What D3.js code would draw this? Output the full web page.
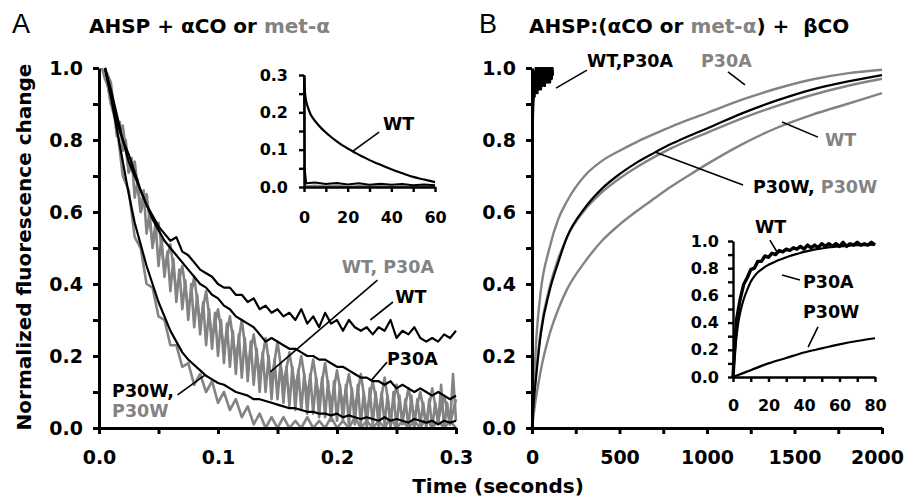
<!DOCTYPE html>
<html>
<head>
<meta charset="utf-8">
<script src="https://cdn.jsdelivr.net/npm/d3@7"></script>
<style>
  body { margin: 0; background: #fff; }
  text { font-family: "DejaVu Sans", Verdana, sans-serif; font-weight: bold; }
</style>
</head>
<body>
<svg id="chart" width="908" height="497"></svg>
<script>
// ---------- data: panel A (AHSP + aCO or met-a), seconds ----------
const timeA = [0.005,0.010,0.015,0.020,0.025,0.030,0.035,0.040,0.045,0.050,
               0.055,0.060,0.065,0.070,0.075,0.080,0.085,0.090,0.095,0.100,
               0.105,0.110,0.115,0.120,0.125,0.130,0.135,0.140,0.145,0.150,
               0.155,0.160,0.165,0.170,0.175,0.180,0.185,0.190,0.195,0.200,
               0.205,0.210,0.215,0.220,0.225,0.230,0.235,0.240,0.245,0.250,
               0.255,0.260,0.265,0.270,0.275,0.280,0.285,0.290,0.295,0.300];
// black: aCO
const coWT   = [1.00,0.93,0.85,0.80,0.76,0.71,0.66,0.62,0.59,0.56,
                0.54,0.52,0.53,0.49,0.48,0.46,0.44,0.43,0.42,0.40,
                0.39,0.39,0.37,0.37,0.35,0.36,0.33,0.34,0.32,0.33,
                0.31,0.32,0.30,0.33,0.29,0.31,0.28,0.32,0.29,0.30,
                0.27,0.30,0.28,0.27,0.28,0.26,0.28,0.27,0.30,0.25,
                0.27,0.26,0.28,0.25,0.24,0.25,0.24,0.26,0.25,0.27];
const coP30A = [1.00,0.94,0.87,0.80,0.74,0.70,0.66,0.62,0.58,0.55,
                0.52,0.50,0.48,0.46,0.44,0.42,0.40,0.39,0.37,0.36,
                0.34,0.33,0.31,0.30,0.29,0.28,0.26,0.24,0.25,0.24,
                0.23,0.22,0.22,0.21,0.20,0.20,0.19,0.19,0.18,0.17,
                0.17,0.16,0.15,0.14,0.14,0.13,0.13,0.12,0.13,0.11,
                0.12,0.11,0.10,0.11,0.10,0.09,0.10,0.09,0.08,0.09];
const coP30W = [1.00,0.92,0.83,0.74,0.65,0.57,0.51,0.45,0.40,0.35,
                0.31,0.27,0.24,0.21,0.19,0.175,0.16,0.145,0.135,0.125,
                0.12,0.11,0.10,0.095,0.09,0.08,0.08,0.075,0.07,0.065,
                0.06,0.055,0.055,0.05,0.045,0.045,0.04,0.04,0.035,0.04,
                0.03,0.035,0.03,0.025,0.03,0.025,0.02,0.03,0.02,0.025,
                0.02,0.015,0.025,0.02,0.015,0.02,0.01,0.02,0.015,0.02];
// gray: met-a (WT sampled twice as densely)
const timeAfine = [0.0025,0.005,0.0075,0.010,0.0125,0.015,0.0175,0.020,0.0225,0.025,
                   0.0275,0.030,0.0325,0.035,0.0375,0.040,0.0425,0.045,0.0475,0.050,
                   0.0525,0.055,0.0575,0.060,0.0625,0.065,0.0675,0.070,0.0725,0.075,
                   0.0775,0.080,0.0825,0.085,0.0875,0.090,0.0925,0.095,0.0975,0.100,
                   0.1025,0.105,0.1075,0.110,0.1125,0.115,0.1175,0.120,0.1225,0.125,
                   0.1275,0.130,0.1325,0.135,0.1375,0.140,0.1425,0.145,0.1475,0.150,
                   0.1525,0.155,0.1575,0.160,0.1625,0.165,0.1675,0.170,0.1725,0.175,
                   0.1775,0.180,0.1825,0.185,0.1875,0.190,0.1925,0.195,0.1975,0.200,
                   0.2025,0.205,0.2075,0.210,0.2125,0.215,0.2175,0.220,0.2225,0.225,
                   0.2275,0.230,0.2325,0.235,0.2375,0.240,0.2425,0.245,0.2475,0.250,
                   0.2525,0.255,0.2575,0.260,0.2625,0.265,0.2675,0.270,0.2725,0.275,
                   0.2775,0.280,0.2825,0.285,0.2875,0.290,0.2925,0.295,0.2975,0.300];
const metWT = [1.00,0.97,0.95,0.90,0.90,0.84,0.85,0.77,0.80,0.71,
               0.75,0.64,0.69,0.60,0.66,0.54,0.60,0.50,0.57,0.45,
               0.53,0.42,0.49,0.38,0.47,0.35,0.44,0.33,0.41,0.30,
               0.40,0.28,0.37,0.26,0.35,0.23,0.33,0.22,0.32,0.20,
               0.30,0.18,0.29,0.17,0.27,0.15,0.26,0.14,0.25,0.13,
               0.24,0.12,0.22,0.10,0.21,0.10,0.20,0.08,0.19,0.08,
               0.18,0.07,0.17,0.06,0.17,0.05,0.16,0.05,0.15,0.04,
               0.15,0.04,0.14,0.03,0.14,0.03,0.13,0.02,0.13,0.02,
               0.12,0.02,0.12,0.01,0.11,0.01,0.12,0.01,0.10,0.00,
               0.11,0.01,0.10,0.00,0.10,0.01,0.09,0.00,0.10,0.00,
               0.09,0.01,0.08,0.00,0.09,0.00,0.08,0.01,0.07,0.00,
               0.08,0.00,0.07,0.01,0.12,0.00,0.07,0.01,0.15,0.02];
const metP30A = [1.00,0.96,0.81,0.84,0.71,0.74,0.60,0.65,0.51,0.57,
                 0.44,0.51,0.38,0.45,0.33,0.42,0.29,0.38,0.25,0.33,
                 0.22,0.31,0.19,0.30,0.17,0.26,0.15,0.25,0.13,0.24,
                 0.12,0.21,0.11,0.20,0.09,0.19,0.08,0.18,0.06,0.16,
                 0.06,0.15,0.05,0.15,0.04,0.13,0.04,0.14,0.03,0.12,
                 0.02,0.11,0.03,0.10,0.01,0.11,0.02,0.09,0.01,0.08];
const metP30W = [1.00,0.90,0.84,0.70,0.66,0.53,0.50,0.40,0.39,0.31,
                 0.30,0.23,0.23,0.17,0.18,0.12,0.15,0.10,0.13,0.07,
                 0.10,0.05,0.08,0.03,0.06,0.01,0.04,0.00,0.03,0.00,
                 0.03,0.00,0.02,0.00,0.03,0.00,0.02,0.00,0.03,0.00,
                 0.02,0.00,0.03,0.00,0.02,0.00,0.02,0.00,0.03,0.00,
                 0.02,0.00,0.02,0.00,0.03,0.00,0.02,0.00,0.02,0.00];

// panel A inset (0-60 s)
const timeAin  = [0,0.5,1,2,3,4,6,8,10,12,15,18,21,24,27,30,34,38,42,46,50,55,60];
const inWT     = [0.30,0.25,0.23,0.21,0.195,0.185,0.17,0.157,0.146,0.136,0.122,0.11,
                  0.10,0.09,0.081,0.072,0.062,0.052,0.043,0.035,0.027,0.02,0.013];
const timeAin2 = [0,0.3,1,5,10,15,20,25,30,35,40,45,50,55,60];
const inFlatK  = [0.30,0.05,0.01,0.012,0.008,0.011,0.007,0.01,0.006,0.009,0.006,0.008,0.005,0.007,0.005];
const inFlatG  = [0.06,0.01,0.002,0.004,0.002,0.004,0.001,0.003,0.002,0.003,0.001,0.002,0.001,0.002,0.001];

// ---------- data: panel B (AHSP:(aCO or met-a) + bCO), seconds ----------
const timeBfast = [0,1,2,3,4,5,6,8,10,12,14,16,18,20,22,24,26,28,30,32,34,36,38,40,42,44,46,48,
                   50,52,54,56,58,60,62,64,66,68,70,72,74,76,78,80,82,84,86,88,90,92,94,96,98,
                   100,102,104,106,108,110,112,114,116,118,120];
const fastWT   = [0,0.42,0.62,0.74,0.81,0.86,0.89,0.92,0.94,0.95,0.93,0.99,0.94,1.00,
                  0.95,0.98,0.93,1.00,0.96,0.99,0.94,1.00,0.95,0.99,0.96,1.00,0.94,0.99,
                  0.96,1.00,0.95,0.98,0.97,1.00,0.95,0.99,0.96,1.00,0.97,0.99,0.95,1.00,0.97,
                  0.99,0.96,1.00,0.97,0.99,0.96,1.00,0.98,0.99,0.96,1.00,0.97,0.99,0.97,1.00,
                  0.98,0.99,0.97,1.00,0.98,0.99];
const fastP30A = [0,0.35,0.55,0.68,0.76,0.82,0.86,0.90,0.92,0.93,0.96,0.92,0.98,0.93,
                  0.99,0.94,0.97,0.95,1.00,0.93,0.98,0.95,0.99,0.94,0.98,0.96,1.00,0.95,
                  0.99,0.94,0.98,0.96,1.00,0.95,0.98,0.97,1.00,0.96,0.98,0.95,0.99,0.97,1.00,
                  0.96,0.99,0.97,1.00,0.97,0.99,0.96,1.00,0.97,0.99,0.97,1.00,0.96,0.99,0.98,
                  1.00,0.97,0.99,0.98,1.00,0.98];
const timeB    = [0,5,10,25,50,100,150,200,300,400,500,600,700,800,900,1000,1200,1400,1600,1800,2000];
const metP30A_B = [0,0.07,0.12,0.25,0.38,0.50,0.58,0.63,0.70,0.742,0.77,0.795,0.817,0.838,0.857,0.875,0.912,0.943,0.968,0.985,0.995];
const coP30W_B  = [0,0.035,0.07,0.15,0.26,0.38,0.46,0.53,0.61,0.665,0.705,0.738,0.765,0.79,0.812,0.832,0.874,0.91,0.94,0.962,0.98];
const metP30W_B = [0,0.04,0.08,0.16,0.27,0.39,0.47,0.53,0.605,0.655,0.693,0.725,0.753,0.778,0.80,0.82,0.86,0.895,0.925,0.95,0.97];
const metWT_B   = [0,0.02,0.04,0.09,0.16,0.26,0.33,0.385,0.46,0.52,0.565,0.603,0.638,0.672,0.703,0.733,0.788,0.834,0.87,0.90,0.93];

// panel B inset (0-80 s)
const timeBin  = [0,2,4,6,8,10,12,14,16,18,20,22,24,26,28,30,32,34,36,38,40,
                  42,44,46,48,50,52,54,56,58,60,62,64,66,68,70,72,74,76,78,80];
const inWT_B   = [0,0.42,0.57,0.68,0.73,0.79,0.80,0.85,0.85,0.89,0.88,0.91,0.90,0.93,0.92,0.94,
                  0.93,0.95,0.94,0.96,0.94,0.97,0.95,0.97,0.95,0.98,0.96,0.98,0.96,0.98,0.96,
                  0.99,0.96,0.98,0.97,0.99,0.97,0.98,0.97,0.99,0.97];
const timeBin2 = [0,1,2,3,4,6,8,10,12,14,16,18,20,24,28,32,36,40,45,50,55,60,65,70,75,80];
const inP30A_B = [0,0.17,0.30,0.40,0.47,0.57,0.64,0.70,0.74,0.77,0.79,0.81,0.825,0.85,0.87,0.89,
                  0.905,0.92,0.935,0.945,0.955,0.96,0.965,0.97,0.97,0.975];
const timeBin3 = [0,5,10,20,30,40,50,60,70,80];
const inP30W_B = [0,0.025,0.05,0.10,0.14,0.18,0.21,0.24,0.265,0.285];

// ticks
const ticksAx  = [0,0.05,0.1,0.15,0.2,0.25,0.3];
const ticksY   = [0,0.1,0.2,0.3,0.4,0.5,0.6,0.7,0.8,0.9,1.0];
const ticksBx  = [0,250,500,750,1000,1250,1500,1750,2000];
const ticksAix = [0,10,20,30,40,50,60];
const ticksAiy = [0,0.05,0.1,0.15,0.2,0.25,0.3];
const ticksBix = [0,10,20,30,40,50,60,70,80];

const BLACK = "#000", GRAY = "#838383";
const svg = d3.select("#chart");

// ---------- helpers ----------
function zip(t, v) { return t.map((d, i) => [d, v[i]]); }

function drawAxes(g, x, y, o) {
  const f1 = d3.format(".1f");
  const xa = g.append("g")
    .attr("transform", `translate(0,${y.range()[0]})`)
    .call(d3.axisBottom(x).tickValues(o.xt).tickSize(o.tick).tickSizeOuter(0)
      .tickPadding(o.xpad).tickFormat((d, i) => i % 2 === 0 ? o.xf(d) : ""));
  const ya = g.append("g")
    .attr("transform", `translate(${x.range()[0]},0)`)
    .call(d3.axisLeft(y).tickValues(o.yt).tickSize(o.tick).tickSizeOuter(0)
      .tickPadding(o.ypad).tickFormat((d, i) => i % 2 === 0 ? f1(d) : ""));
  [xa, ya].forEach(a => {
    a.selectAll("path,line").attr("stroke", BLACK).attr("stroke-width", o.sw);
    a.selectAll("text").attr("fill", BLACK).style("font-size", o.fs + "px")
      .style("font-family", '"DejaVu Sans", Verdana, sans-serif').style("font-weight", "bold");
  });
  return xa;
}

function curve(g, x, y, t, v, color, w, smooth) {
  const line = d3.line().x(d => x(d[0])).y(d => y(d[1]));
  if (smooth) line.curve(d3.curveMonotoneX);
  g.append("path").datum(zip(t, v))
    .attr("fill", "none").attr("stroke", color).attr("stroke-width", w)
    .attr("stroke-linejoin", "round").attr("d", line);
}

function note(g, x, y, a) {
  if (a.line) {
    g.append("line")
      .attr("x1", x(a.line[0])).attr("y1", y(a.line[1]))
      .attr("x2", x(a.line[2])).attr("y2", y(a.line[3]))
      .attr("stroke", BLACK).attr("stroke-width", 1.6);
  }
  const t = g.append("text").attr("x", x(a.at[0])).attr("y", y(a.at[1]))
    .style("font-size", (a.fs || 17.5) + "px").style("white-space", "pre");
  a.parts.forEach(p => t.append("tspan").attr("fill", p[1]).text(p[0]));
}

// ---------- panel A ----------
const xA = d3.scaleLinear().domain([0, 0.3]).range([99, 456]);
const yA = d3.scaleLinear().domain([0, 1]).range([428, 68]);
const gA = svg.append("g");

curve(gA, xA, yA, timeAfine, metWT, GRAY, 2.6);
curve(gA, xA, yA, timeA, metP30A, GRAY, 2.6);
curve(gA, xA, yA, timeA, metP30W, GRAY, 2.6);
curve(gA, xA, yA, timeA, coP30W, BLACK, 2.2);
curve(gA, xA, yA, timeA, coP30A, BLACK, 2.2);
curve(gA, xA, yA, timeA, coWT, BLACK, 2.2);

drawAxes(gA, xA, yA, {xt: ticksAx, yt: ticksY, xf: d3.format(".1f"), tick: 6, sw: 3,
                      xpad: 17, ypad: 10, fs: 19});

note(gA, xA, yA, {at: [0.204, 0.43], parts: [["WT, P30A", GRAY]], line: [0.234, 0.411, 0.144, 0.156]});
note(gA, xA, yA, {at: [0.249, 0.347], parts: [["WT", BLACK]], line: [0.247, 0.35, 0.228, 0.30]});
note(gA, xA, yA, {at: [0.242, 0.175], parts: [["P30A", BLACK]], line: [0.242, 0.183, 0.229, 0.133]});
note(gA, xA, yA, {at: [0.011, 0.086], parts: [["P30W,", BLACK]], line: [0.066, 0.092, 0.089, 0.147]});
note(gA, xA, yA, {at: [0.011, 0.031], parts: [["P30W", GRAY]]});

// inset A
const xAi = d3.scaleLinear().domain([0, 60]).range([304, 435]);
const yAi = d3.scaleLinear().domain([0, 0.3]).range([187, 75]);
const gAi = svg.append("g");
curve(gAi, xAi, yAi, timeAin2, inFlatG, GRAY, 2);
curve(gAi, xAi, yAi, timeAin2, inFlatK, BLACK, 2);
curve(gAi, xAi, yAi, timeAin, inWT, BLACK, 2.2, true);
drawAxes(gAi, xAi, yAi, {xt: ticksAix, yt: ticksAiy, xf: d3.format("d"), tick: 5, sw: 2.4,
                         xpad: 20, ypad: 11, fs: 16});
note(gAi, xAi, yAi, {at: [36.2, 0.153], parts: [["WT", BLACK]], line: [34.4, 0.147, 22.4, 0.096]});

// ---------- panel B ----------
const xB = d3.scaleLinear().domain([0, 2000]).range([532, 882]);
const yB = d3.scaleLinear().domain([0, 1]).range([428, 68]);
const gB = svg.append("g");

curve(gB, xB, yB, timeB, metWT_B, GRAY, 2.4, true);
curve(gB, xB, yB, timeB, metP30A_B, GRAY, 2.4, true);
curve(gB, xB, yB, timeB, metP30W_B, GRAY, 2.4, true);
curve(gB, xB, yB, timeB, coP30W_B, BLACK, 2.2, true);
curve(gB, xB, yB, timeBfast, fastP30A, BLACK, 2);
curve(gB, xB, yB, timeBfast, fastWT, BLACK, 2);

const xaB = drawAxes(gB, xB, yB, {xt: ticksBx, yt: ticksY, xf: d3.format("d"), tick: 6, sw: 3,
                                  xpad: 17, ypad: 10, fs: 19});
// last label sits a little inward, as in the original
xaB.selectAll(".tick text").filter(d => d === 2000).attr("dx", "-5");

note(gB, xB, yB, {at: [314, 1.003], parts: [["WT,P30A", BLACK]], line: [314, 0.994, 137, 0.944]});
note(gB, xB, yB, {at: [966, 1.003], parts: [["P30A", GRAY]], line: [1120, 0.989, 1217, 0.953]});
note(gB, xB, yB, {at: [1674, 0.783], parts: [["WT", GRAY]], line: [1429, 0.85, 1634, 0.808]});
note(gB, xB, yB, {at: [1263, 0.653], parts: [["P30W", BLACK], [", ", BLACK], ["P30W", GRAY]],
                  line: [703, 0.767, 1206, 0.675]});

// inset B
const xBi = d3.scaleLinear().domain([0, 80]).range([733, 875]);
const yBi = d3.scaleLinear().domain([0, 1]).range([377, 241]);
const gBi = svg.append("g");
curve(gBi, xBi, yBi, timeBin2, inP30A_B, BLACK, 2.2, true);
curve(gBi, xBi, yBi, timeBin, inWT_B, BLACK, 3.4);
curve(gBi, xBi, yBi, timeBin3, inP30W_B, BLACK, 2.2, true);
drawAxes(gBi, xBi, yBi, {xt: ticksBix, yt: ticksY, xf: d3.format("d"), tick: 5, sw: 2.4,
                         xpad: 18, ypad: 9, fs: 16});
note(gBi, xBi, yBi, {at: [12.4, 1.06], parts: [["WT", BLACK]], line: [20.8, 1.007, 24.8, 0.919]});
note(gBi, xBi, yBi, {at: [39.4, 0.654], parts: [["P30A", BLACK]], line: [27.6, 0.75, 37.7, 0.713]});
note(gBi, xBi, yBi, {at: [39.4, 0.434], parts: [["P30W", BLACK]], line: [47.9, 0.368, 42.3, 0.22]});

// ---------- titles and axis labels ----------
svg.append("text").attr("x", 12).attr("y", 33).text("A")
  .style("font-family", '"Liberation Sans", Arial, sans-serif').style("font-weight", "normal")
  .style("font-size", "27px");
svg.append("text").attr("x", 479).attr("y", 33).text("B")
  .style("font-family", '"Liberation Sans", Arial, sans-serif').style("font-weight", "normal")
  .style("font-size", "27px");

const tA = svg.append("text").attr("x", 89).attr("y", 33).style("font-size", "20px").style("white-space", "pre");
tA.append("tspan").attr("fill", BLACK).text("AHSP + αCO or ");
tA.append("tspan").attr("fill", GRAY).text("met-α");

const tB = svg.append("text").attr("x", 529).attr("y", 33).style("font-size", "20px").style("white-space", "pre");
tB.append("tspan").attr("fill", BLACK).text("AHSP:(αCO or ");
tB.append("tspan").attr("fill", GRAY).text("met-α");
tB.append("tspan").attr("fill", BLACK).text(") +  βCO");

svg.append("text").attr("transform", "translate(31,247) rotate(-90)")
  .attr("text-anchor", "middle").style("font-size", "20px").text("Normalized fluorescence change");

svg.append("text").attr("x", 498).attr("y", 493).attr("text-anchor", "middle")
  .style("font-size", "20px").text("Time (seconds)");
</script>
</body>
</html>
